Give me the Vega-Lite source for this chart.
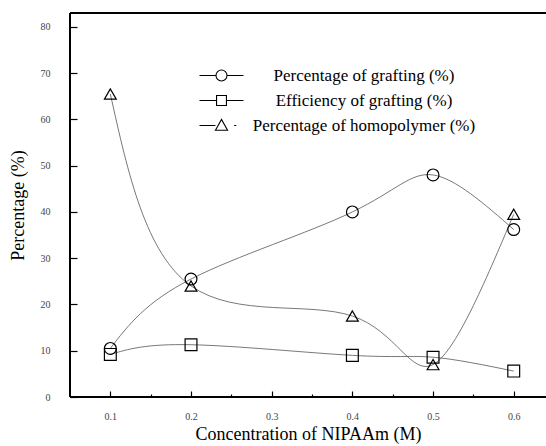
{
  "$schema": "https://vega.github.io/schema/vega-lite/v6.json",
  "width": 476,
  "height": 384,
  "autosize": {"type": "none"},
  "padding": {"left": 70, "top": 13, "right": 0, "bottom": 49},
  "background": "white",
  "config": {
    "view": {"stroke": null},
    "font": "Liberation Serif",
    "axis": {
      "domain": false,
      "tickColor": "black",
      "tickWidth": 1.2,
      "ticks": true,
      "grid": false,
      "labelFont": "Liberation Serif",
      "labelFontSize": 10,
      "labelColor": "#444",
      "titleFont": "Liberation Serif",
      "titleFontSize": 18,
      "titleFontWeight": "normal",
      "titleColor": "black"
    }
  },
  "data": {
    "values": [
      {"series": "Percentage of grafting (%)", "x": 0.1, "y": 10.5},
      {"series": "Percentage of grafting (%)", "x": 0.2, "y": 25.5},
      {"series": "Percentage of grafting (%)", "x": 0.4, "y": 40},
      {"series": "Percentage of grafting (%)", "x": 0.5, "y": 48},
      {"series": "Percentage of grafting (%)", "x": 0.6, "y": 36.2},
      {"series": "Efficiency of grafting (%)", "x": 0.1, "y": 9.2},
      {"series": "Efficiency of grafting (%)", "x": 0.2, "y": 11.3},
      {"series": "Efficiency of grafting (%)", "x": 0.4, "y": 9},
      {"series": "Efficiency of grafting (%)", "x": 0.5, "y": 8.6},
      {"series": "Efficiency of grafting (%)", "x": 0.6, "y": 5.6},
      {"series": "Percentage of homopolymer (%)", "x": 0.1, "y": 65.5},
      {"series": "Percentage of homopolymer (%)", "x": 0.2, "y": 24},
      {"series": "Percentage of homopolymer (%)", "x": 0.4, "y": 17.5},
      {"series": "Percentage of homopolymer (%)", "x": 0.5, "y": 7},
      {"series": "Percentage of homopolymer (%)", "x": 0.6, "y": 39.5}
    ]
  },
  "resolve": {"scale": {"shape": "independent"}},
  "layer": [
    {
      "mark": {"type": "line", "interpolate": "natural", "color": "#555", "strokeWidth": 0.8},
      "encoding": {
        "x": {
          "field": "x",
          "type": "quantitative",
          "scale": {"domain": [0.05, 0.64], "nice": false, "zero": false},
          "axis": {
            "title": "Concentration of NIPAAm (M)",
            "values": [0.1, 0.15, 0.2, 0.25, 0.3, 0.35, 0.4, 0.45, 0.5, 0.55, 0.6],
            "labelExpr": "round(datum.value * 100) % 10 === 0 ? format(datum.value, '.1f') : ''",
            "tickSize": 6,
            "offset": -6,
            "tickDash": {"condition": {"test": "round(datum.value * 100) % 10 === 0", "value": []}, "value": [0, 3, 3]},
            "labelPadding": 14,
            "titlePadding": 4
          }
        },
        "y": {
          "field": "y",
          "type": "quantitative",
          "scale": {"domain": [0, 83], "nice": false},
          "axis": {
            "title": "Percentage (%)",
            "values": [0, 5, 10, 15, 20, 25, 30, 35, 40, 45, 50, 55, 60, 65, 70, 75, 80],
            "labelExpr": "datum.value % 10 === 0 ? datum.label : ''",
            "tickSize": 7,
            "offset": -7,
            "tickDash": {"condition": {"test": "datum.value % 10 === 0", "value": []}, "value": [0, 3, 4]},
            "labelPadding": 20,
            "titlePadding": 13
          }
        },
        "detail": {"field": "series"}
      }
    },
    {
      "mark": {"type": "rule", "color": "black", "strokeWidth": 1},
      "encoding": {"y": {"datum": 83}}
    },
    {
      "mark": {"type": "rule", "color": "black", "strokeWidth": 1.5},
      "encoding": {"y": {"datum": 0}}
    },
    {
      "mark": {"type": "rule", "color": "black", "strokeWidth": 1.5},
      "encoding": {"x": {"datum": 0.05}}
    },
    {
      "mark": {"type": "point", "filled": false, "stroke": "black", "strokeWidth": 1.2, "size": 140, "opacity": 1},
      "encoding": {
        "x": {"field": "x", "type": "quantitative"},
        "y": {"field": "y", "type": "quantitative"},
        "shape": {
          "field": "series",
          "type": "nominal",
          "scale": {
            "domain": ["Percentage of grafting (%)", "Efficiency of grafting (%)", "Percentage of homopolymer (%)"],
            "range": ["circle", "square", "triangle-up"]
          },
          "legend": null
        }
      }
    },
    {
      "mark": {"type": "point", "filled": false, "stroke": "black", "strokeWidth": 1.1, "size": 121, "opacity": 0},
      "encoding": {
        "x": {"field": "x", "type": "quantitative"},
        "y": {"field": "y", "type": "quantitative"},
        "shape": {
          "field": "series",
          "type": "nominal",
          "scale": {
            "domain": ["Percentage of grafting (%)", "Efficiency of grafting (%)", "Percentage of homopolymer (%)"],
            "range": [
              "M-4,0H-1M1,0H4M1,0A1,1,0,1,1,-1,0A1,1,0,1,1,1,0Z",
              "M-4,0H-0.9M0.9,0H4M-0.9,-0.9H0.9V0.9H-0.9Z",
              "M-4,0H-1.1M-1.1,0.85L0,-1.1L1.1,0.85ZM2.3,0H2.7"
            ]
          },
          "legend": {
            "title": null,
            "orient": "none",
            "legendX": 143,
            "legendY": 54,
            "symbolSize": 121,
            "symbolOpacity": 1,
            "symbolStrokeWidth": 1.1,
            "symbolStrokeColor": "black",
            "labelFont": "Liberation Serif",
            "labelFontSize": 17,
            "labelColor": "black",
            "labelAlign": "center",
            "labelOffset": 134,
            "labelLimit": 400,
            "rowPadding": 7
          }
        }
      }
    }
  ]
}
